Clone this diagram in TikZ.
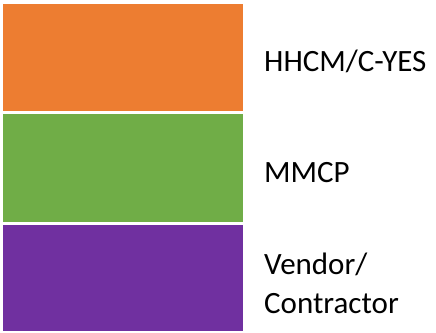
\documentclass[tikz,border=0pt]{standalone}
\usepackage{fontspec}
\setmainfont{Carlito}
\definecolor{cOrange}{HTML}{ED7D31}
\definecolor{cGreen}{HTML}{70AD47}
\definecolor{cPurple}{HTML}{7030A0}
\tikzset{
  lbl/.style={inner sep=0pt, anchor=base west, align=left, font=\fontsize{31}{39}\selectfont, text=black}
}
\begin{document}
\begin{tikzpicture}[x=1pt,y=1pt]
\useasboundingbox (0,0) rectangle (436,-332);
\fill[cOrange] (3,-4) rectangle (242.5,-111);
\fill[cGreen] (3,-114) rectangle (242.5,-222);
\fill[cPurple] (3,-225) rectangle (242.5,-331);
\node[lbl] (a) at (264,-71.7) {HHCM/C-YES};
\node[lbl] (b) at (264,-182.3) {MMCP};
\node[lbl] (c) at (264,-313.3) {Vendor/\\Contractor};
\end{tikzpicture}
\end{document}
